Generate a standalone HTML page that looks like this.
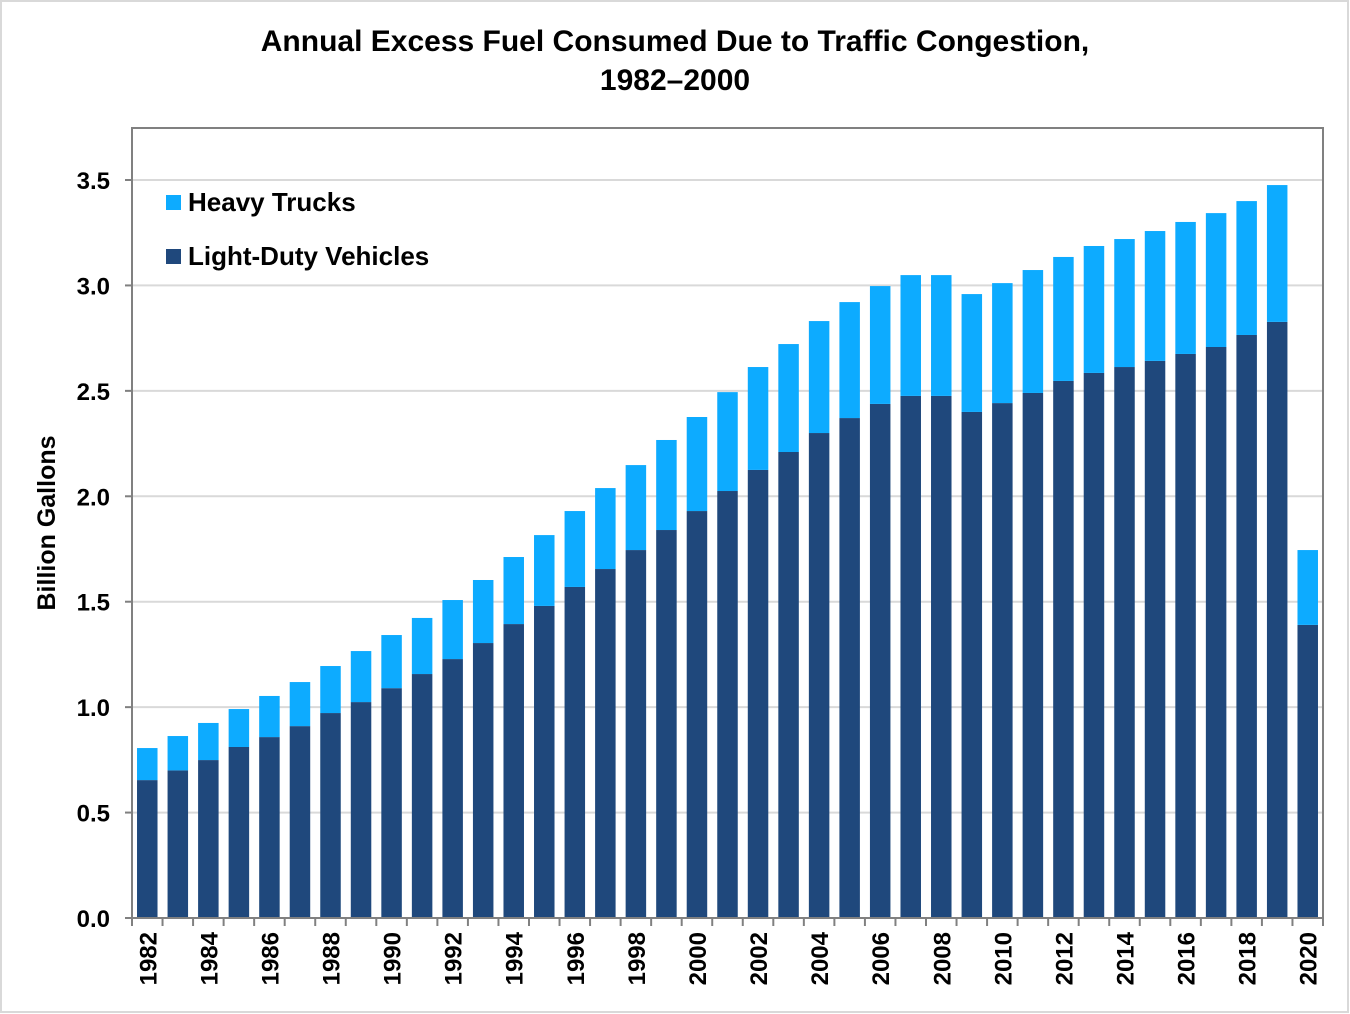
<!DOCTYPE html>
<html><head><meta charset="utf-8"><style>
html,body{margin:0;padding:0;background:#fff;}
svg{display:block;font-family:"Liberation Sans",Arial,sans-serif;}
</style></head><body>
<svg id="chart" width="1350" height="1014" viewBox="0 0 1350 1014">
<rect x="1" y="1" width="1347" height="1011" fill="#fff" stroke="#d9d9d9" stroke-width="2"/>
<text x="675" y="51" text-anchor="middle" font-size="30" font-weight="bold" fill="#000">Annual Excess Fuel Consumed Due to Traffic Congestion,</text>
<text x="675" y="90" text-anchor="middle" font-size="30" font-weight="bold" fill="#000">1982–2000</text>
<g id="grid"></g>
<g id="bars"></g>
<rect x="132" y="128" width="1191" height="790" fill="none" stroke="#808080" stroke-width="2"/>
<g id="axes"></g>
<text transform="translate(55,523) rotate(-90)" text-anchor="middle" font-size="25" font-weight="bold">Billion Gallons</text>
<g>
<rect x="166" y="195" width="15" height="15" fill="#0dabff"/>
<text x="188" y="211" font-size="26" font-weight="bold">Heavy Trucks</text>
<rect x="166" y="249" width="15" height="15" fill="#1f487c"/>
<text x="188" y="265" font-size="26" font-weight="bold">Light-Duty Vehicles</text>
</g>
</svg>
<script>
const years = [];
for (let y = 1982; y <= 2020; y++) years.push(y);
const lightDuty = [0.654,0.70,0.749,0.811,0.858,0.91,0.972,1.024,1.09,1.157,1.228,1.304,1.394,1.48,1.57,1.655,1.745,1.84,1.93,2.025,2.125,2.21,2.30,2.371,2.438,2.476,2.476,2.40,2.442,2.49,2.547,2.585,2.613,2.642,2.675,2.708,2.765,2.827,1.39];
const totals = [0.806,0.863,0.925,0.991,1.053,1.119,1.195,1.266,1.342,1.423,1.508,1.603,1.712,1.816,1.93,2.039,2.148,2.267,2.376,2.494,2.613,2.722,2.831,2.921,2.997,3.049,3.049,2.959,3.011,3.073,3.135,3.187,3.22,3.258,3.301,3.343,3.40,3.476,1.745];
const heavyTrucks = totals.map((t,i)=>+(t-lightDuty[i]).toFixed(3));
const yTicks = [0,0.5,1.0,1.5,2.0,2.5,3.0,3.5];
const yTickLabels = ["0.0","0.5","1.0","1.5","2.0","2.5","3.0","3.5"];

const NS="http://www.w3.org/2000/svg";
const L=132,R=1323,B=918,T=128;
const y=v=>B-v*(B-180)/3.5;
const step=(R-L)/years.length;
const x=i=>L+i*step;
const bw=20.5;
function mk(tag,attrs,parent){const e=document.createElementNS(NS,tag);for(const k in attrs)e.setAttribute(k,attrs[k]);parent.appendChild(e);return e;}
const grid=document.getElementById('grid'),bars=document.getElementById('bars'),axes=document.getElementById('axes');
yTicks.forEach((v,i)=>{
  if(v>0){const g=mk('line',{x1:L,x2:R,y1:y(v),y2:y(v),stroke:'#d9d9d9','stroke-width':2},grid);
  
  }
  const t=mk('line',{x1:L-7,x2:L,y1:y(v),y2:y(v),stroke:'#808080','stroke-width':2},axes);
  
  
  const tx=mk('text',{x:L-22,y:y(v)+9,'text-anchor':'end','font-size':24,'font-weight':'bold'},axes);
  tx.textContent=yTickLabels[i];
  
  
});
years.forEach((yr,i)=>{
  const cx=x(i)+step/2;
  const b1=mk('rect',{x:cx-bw/2,y:y(lightDuty[i]),width:bw,height:B-y(lightDuty[i]),fill:'#1f487c'},bars);
  
  
  const b2=mk('rect',{x:cx-bw/2,y:y(lightDuty[i]+heavyTrucks[i]),width:bw,height:y(lightDuty[i])-y(lightDuty[i]+heavyTrucks[i]),fill:'#0dabff'},bars);
  
  
  const tk=mk('line',{x1:x(i),x2:x(i),y1:B,y2:B+8,stroke:'#808080','stroke-width':2},axes);
  
  
  if(i%2===0){
    const tx=mk('text',{transform:`translate(${cx+9},${B+14}) rotate(-90)`,'text-anchor':'end','font-size':24,'font-weight':'bold'},axes);
    tx.textContent=yr;
    
    
  }
});
mk('line',{x1:R,x2:R,y1:B,y2:B+8,stroke:'#808080','stroke-width':2},axes);
</script>
</body></html>
